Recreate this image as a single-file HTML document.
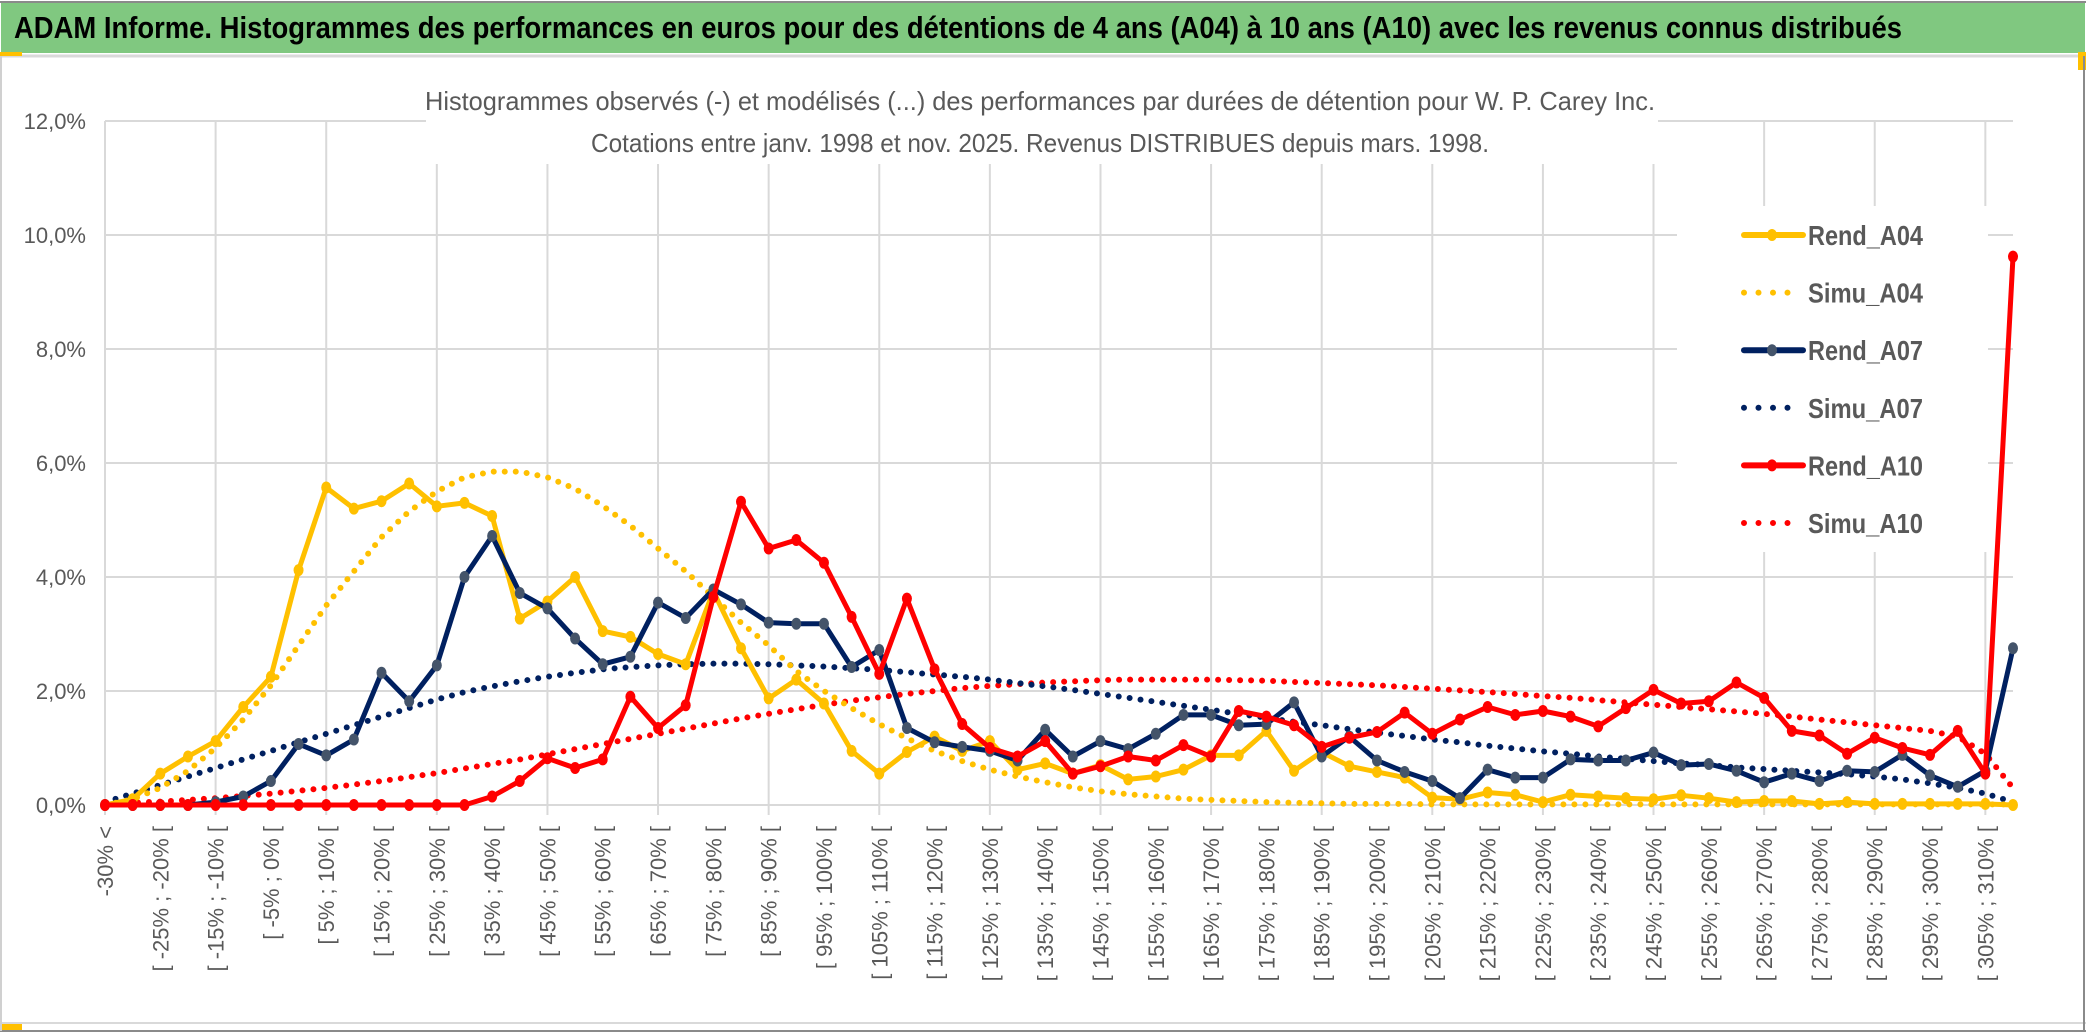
<!DOCTYPE html>
<html><head><meta charset="utf-8">
<style>
html,body{margin:0;padding:0;background:#fff;}
svg{display:block;font-family:"Liberation Sans Narrow","Liberation Sans",sans-serif;}
</style></head>
<body>
<svg id="chart" width="2086" height="1033" xmlns="http://www.w3.org/2000/svg">
  <rect x="0" y="0" width="2086" height="1033" fill="#fff"/>
  <rect x="1" y="3" width="2084" height="50" fill="#80C880"/>
  <line x1="0" y1="2" x2="2086" y2="2" stroke="#8a8a8a" stroke-width="2"/>
  <line x1="0" y1="56" x2="2086" y2="56" stroke="#d9d9d9" stroke-width="3"/>
  <rect x="0" y="52" width="22" height="4" fill="#FFC000"/>
  <rect x="2078" y="52" width="8" height="18" fill="#FFC000"/>
  <rect x="0" y="1024" width="22" height="7" fill="#FFC000"/>
  <line x1="0" y1="1031" x2="2086" y2="1031" stroke="#8a8a8a" stroke-width="2"/>
  <line x1="0" y1="1023" x2="2086" y2="1023" stroke="#d9d9d9" stroke-width="2"/>
  <line x1="2084" y1="56" x2="2084" y2="1031" stroke="#8a8a8a" stroke-width="2"/>
  <line x1="1" y1="56" x2="1" y2="1031" stroke="#d0d0d0" stroke-width="2"/>
  <text x="14" y="38" font-size="31" font-weight="bold" fill="#000" textLength="1888" lengthAdjust="spacingAndGlyphs">ADAM Informe. Histogrammes des performances en euros pour des détentions de 4 ans (A04) à 10 ans (A10) avec les revenus connus distribués</text>
  <g id="grid"></g>
  <rect x="426" y="60" width="1232" height="104" fill="#fff"/>
  <text x="1040" y="110" font-size="26" fill="#595959" text-anchor="middle" textLength="1230" lengthAdjust="spacingAndGlyphs">Histogrammes observés (-) et modélisés (...) des performances par durées de détention pour W. P. Carey Inc.</text>
  <text x="1040" y="152" font-size="26" fill="#595959" text-anchor="middle" textLength="898" lengthAdjust="spacingAndGlyphs">Cotations entre janv. 1998 et nov. 2025. Revenus DISTRIBUES depuis mars. 1998.</text>
  <g id="yaxis"></g>
  <g id="xaxis"></g>
  <rect x="1677" y="206" width="311" height="346" fill="#fff"/>
  <g id="series"></g>
  <g id="legend"></g>
</svg>
<script>
const yTicks = [0, 2, 4, 6, 8, 10, 12];
const rendA04 = [0,0.1,0.55,0.85,1.12,1.72,2.25,4.12,5.57,5.2,5.33,5.64,5.24,5.3,5.07,3.27,3.57,4.0,3.05,2.95,2.65,2.47,3.75,2.75,1.87,2.2,1.78,0.95,0.55,0.93,1.2,0.95,1.12,0.62,0.73,0.55,0.7,0.45,0.5,0.62,0.87,0.87,1.3,0.6,0.93,0.68,0.58,0.48,0.13,0.1,0.22,0.18,0.05,0.18,0.15,0.12,0.1,0.17,0.12,0.05,0.07,0.07,0.02,0.05,0.02,0.02,0.02,0.02,0.02,0.0];
const simuA04 = [0,0.1,0.3,0.6,1.0,1.5,2.1,2.8,3.5,4.1,4.7,5.15,5.5,5.75,5.85,5.85,5.75,5.55,5.25,4.9,4.5,4.1,3.65,3.2,2.8,2.35,2.0,1.7,1.42,1.17,0.95,0.77,0.62,0.5,0.4,0.31,0.24,0.19,0.15,0.11,0.09,0.07,0.05,0.04,0.03,0.02,0.02,0.02,0.01,0.01,0.01,0.01,0.01,0.01,0.01,0.01,0.01,0.01,0.01,0.01,0.01,0.01,0.01,0.01,0.01,0.01,0.01,0.01,0.01,0.01];
const rendA07 = [0,0,0,0,0.05,0.15,0.42,1.07,0.87,1.15,2.32,1.82,2.45,4.0,4.72,3.72,3.45,2.92,2.47,2.6,3.55,3.28,3.78,3.52,3.2,3.18,3.18,2.42,2.72,1.35,1.1,1.02,0.95,0.78,1.32,0.85,1.12,0.98,1.25,1.58,1.58,1.4,1.42,1.8,0.85,1.2,0.78,0.58,0.42,0.12,0.62,0.48,0.48,0.8,0.78,0.78,0.92,0.7,0.72,0.6,0.4,0.55,0.42,0.6,0.58,0.88,0.52,0.32,0.6,2.75];
const simuA07 = [0.05,0.2,0.35,0.5,0.65,0.8,0.95,1.1,1.25,1.4,1.55,1.7,1.85,1.98,2.08,2.17,2.25,2.32,2.38,2.42,2.45,2.47,2.48,2.48,2.47,2.45,2.43,2.4,2.37,2.33,2.29,2.25,2.2,2.14,2.08,2.02,1.95,1.88,1.81,1.74,1.67,1.6,1.53,1.46,1.4,1.33,1.27,1.21,1.15,1.1,1.04,0.99,0.94,0.9,0.85,0.81,0.77,0.73,0.7,0.66,0.63,0.6,0.57,0.54,0.5,0.45,0.38,0.3,0.2,0.05];
const rendA10 = [0,0,0,0,0,0,0,0,0,0,0,0,0,0,0.15,0.42,0.82,0.65,0.8,1.9,1.35,1.75,3.65,5.32,4.5,4.65,4.25,3.3,2.3,3.62,2.38,1.42,1.0,0.85,1.12,0.55,0.68,0.85,0.78,1.05,0.85,1.65,1.55,1.4,1.02,1.18,1.28,1.62,1.25,1.5,1.72,1.58,1.65,1.55,1.38,1.7,2.02,1.78,1.82,2.15,1.88,1.3,1.22,0.9,1.18,1.0,0.88,1.3,0.55,9.62];
const simuA10 = [0.02,0.04,0.06,0.09,0.12,0.16,0.2,0.25,0.3,0.36,0.42,0.49,0.56,0.64,0.72,0.8,0.89,0.98,1.07,1.16,1.25,1.34,1.43,1.52,1.6,1.68,1.76,1.83,1.89,1.95,2.0,2.05,2.09,2.12,2.15,2.17,2.19,2.2,2.2,2.2,2.2,2.19,2.18,2.16,2.14,2.12,2.1,2.07,2.04,2.01,1.98,1.95,1.91,1.88,1.84,1.8,1.76,1.72,1.68,1.64,1.6,1.55,1.5,1.45,1.4,1.35,1.3,1.2,0.9,0.3];
const categoryCount = 70;
const categories = [];
for (let i = 0; i < categoryCount; i++) {
  if (i === 0) categories.push('-30% <');
  else { const lo = (i - 1) * 5 - 30; categories.push('[ ' + lo + '% ; ' + (lo + 5) + '% ['); }
}
const seriesNames = ['Rend_A04','Simu_A04','Rend_A07','Simu_A07','Rend_A10','Simu_A10'];

const NS = 'http://www.w3.org/2000/svg';
const X0 = 105, X1 = 2013, Y0 = 805, Y12 = 121;
function xScale(i){ return X0 + i * (X1 - X0) / (categoryCount - 1); }
function yScale(v){ return Y0 - v * (Y0 - Y12) / 12; }
function mk(tag, attrs, parent){ const e = document.createElementNS(NS, tag); for (const k in attrs) e.setAttribute(k, attrs[k]); parent.appendChild(e); return e; }

const grid = document.getElementById('grid');
yTicks.forEach(t => {
  const l = mk('line', {x1: X0, x2: X1, y1: yScale(t), y2: yScale(t), stroke: '#d9d9d9', 'stroke-width': 2}, grid);
  
  
});
for (let i = 0; i < categoryCount; i += 4) {
  const l = mk('line', {x1: xScale(i), x2: xScale(i), y1: Y12, y2: Y0 + 10, stroke: '#d9d9d9', 'stroke-width': 2}, grid);
  
  
}
const yaxis = document.getElementById('yaxis');
yTicks.forEach(t => {
  const tx = mk('text', {x: 86, y: yScale(t) + 8, 'font-size': 22, fill: '#595959', 'text-anchor': 'end'}, yaxis);
  tx.textContent = t.toFixed(1).replace('.', ',') + '%';
  
  
});
const xaxis = document.getElementById('xaxis');
for (let i = 0; i < categoryCount; i += 2) {
  const x = xScale(i) + 8, y = 826;
  const tx = mk('text', {x: x, y: y, 'font-size': 22, fill: '#595959', 'text-anchor': 'end', transform: 'rotate(-90 ' + x + ' ' + y + ')', 'font-family': '"Liberation Sans", sans-serif'}, xaxis);
  tx.textContent = categories[i];
  
  
}

const sg = document.getElementById('series');
function pts(arr){ return arr.map((v, i) => xScale(i).toFixed(1) + ',' + yScale(v).toFixed(1)).join(' '); }
function dotted(arr, color, name){
  const p = mk('polyline', {points: pts(arr), fill: 'none', stroke: color, 'stroke-width': 6, 'stroke-linecap': 'round', 'stroke-dasharray': '0 11'}, sg);
  
  
}
function solid(arr, color, mcolor, name){
  const p = mk('polyline', {points: pts(arr), fill: 'none', stroke: color, 'stroke-width': 5, 'stroke-linejoin': 'round'}, sg);
  
  
  arr.forEach((v, i) => {
    const c = mk('ellipse', {cx: xScale(i), cy: yScale(v), rx: 5, ry: 6, fill: mcolor}, sg);
    
    
  });
}
dotted(simuA10, '#FF0000', 'simu-a10-line');
dotted(simuA07, '#002060', 'simu-a07-line');
dotted(simuA04, '#FFC000', 'simu-a04-line');
solid(rendA04, '#FFC000', '#FFC000', 'rend-a04-line');
solid(rendA07, '#002060', '#44546A', 'rend-a07-line');
solid(rendA10, '#FF0000', '#FF0000', 'rend-a10-line');

const lg = document.getElementById('legend');
const styles = [['#FFC000','#FFC000',false],['#FFC000',null,true],['#002060','#44546A',false],['#002060',null,true],['#FF0000','#FF0000',false],['#FF0000',null,true]];
seriesNames.forEach((n, k) => {
  const y = 235 + k * 57.6;
  const g = mk('g', {}, lg);
  
  
  const [c, m, isDot] = styles[k];
  if (isDot) mk('line', {x1: 1744, x2: 1800, y1: y, y2: y, stroke: c, 'stroke-width': 6, 'stroke-linecap': 'round', 'stroke-dasharray': '0 14.5'}, g);
  else { mk('line', {x1: 1744, x2: 1803, y1: y, y2: y, stroke: c, 'stroke-width': 6, 'stroke-linecap': 'round'}, g); mk('ellipse', {cx: 1772, cy: y, rx: 5, ry: 6, fill: m}, g); }
  const t = mk('text', {x: 1808, y: y + 10, 'font-size': 28, 'font-weight': 'bold', fill: '#595959', textLength: 115, lengthAdjust: 'spacingAndGlyphs'}, g);
  t.textContent = n;
});
</script>
</body></html>
